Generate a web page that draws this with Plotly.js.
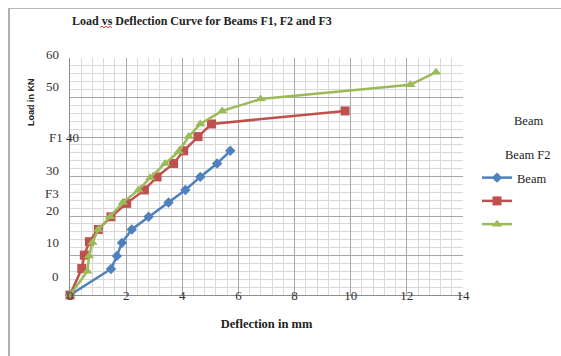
<!DOCTYPE html>
<html>
<head>
<meta charset="utf-8">
<script src="https://cdn.plot.ly/plotly-3.0.1.min.js"></script>
<style>
  html, body { margin: 0; padding: 0; background: #fff; }
  #wrap { position: relative; width: 561px; height: 356px; overflow: hidden; }
  #chart { position: absolute; left: 0; top: 0; width: 561px; height: 356px; }
  #frame { position: absolute; left: 8px; top: 8px; width: 600px; height: 400px;
           border-left: 2px solid #b0b0b0; border-top: 1px solid #b8b8b8; pointer-events: none; }
</style>
</head>
<body>
<div id="wrap">
  <div id="chart"></div>
  <div id="frame"></div>
</div>
<script>
// ---- data ----
const blueX = [0, 1.46, 1.67, 1.85, 2.2, 2.8, 3.51, 4.11, 4.64, 5.24, 5.71];
const blueY = [0, 6.6, 9.9, 13.2, 16.6, 19.8, 23.4, 26.6, 29.9, 33.3, 36.5];

const redX = [0, 0.42, 0.51, 0.69, 1.01, 1.46, 2.02, 2.65, 3.1, 3.69, 4.05, 4.56, 5.04, 9.8];
const redY = [0, 6.7, 10.1, 13.5, 16.6, 19.8, 23.2, 26.6, 29.9, 33.3, 36.5, 40.1, 43.3, 46.6];

const greenX = [0, 0.62, 0.68, 0.8, 1.01, 1.43, 1.88, 2.44, 2.86, 3.39, 3.87, 4.23, 4.64, 5.42, 6.79, 12.12, 13.04];
const greenY = [0, 6.0, 9.9, 13.3, 16.6, 19.8, 23.4, 26.6, 29.7, 33.3, 36.3, 40.1, 43.3, 46.6, 49.6, 53.2, 56.4];

const seriesNames = ['Beam', '', ''];

// garbled y-axis labels as they appear in the reference (text, and the load value they sit at)
const yLabelText = ['60', '50', 'F1 40', '30', 'F3', '20', '10', '0'];
const yLabelAt   = [60.8, 52.7, 40.0, 31.5, 25.6, 21.3, 13.2, 4.8];

// stray legend-like texts
const strayText = ['Beam', 'Beam F2'];

const titleText = 'Load vs Deflection Curve for Beams F1, F2 and F3';
const xTitle = 'Deflection in mm';
const yTitle = 'Load in KN';

// ---- styling ----
const serif = 'Liberation Serif, Times New Roman, serif';
const colors = ['#4F81BD', '#C0504D', '#9BBB59'];
const symbols = ['diamond', 'square', 'triangle-up'];
const msizes = [8, 9, 9];
const yMax = 60;

const xs = [blueX, redX, greenX];
const ys = [blueY, redY, greenY];

const traces = xs.map((x, i) => ({
  type: 'scatter',
  mode: 'lines+markers',
  x: x, y: ys[i],
  name: seriesNames[i],
  legendgroup: 'g' + i,
  cliponaxis: false,
  line: { color: colors[i], width: 2.5 },
  marker: { color: colors[i], symbol: symbols[i], size: msizes[i] }
}));

const annotations = [];
yLabelText.forEach((t, i) => {
  const rightPx = (t === 'F1 40') ? 81 : 61;
  annotations.push({
    text: t, xref: 'paper', yref: 'paper',
    x: (rightPx - 70) / 393, y: yLabelAt[i] / yMax,
    xanchor: 'right', yanchor: 'middle', showarrow: false,
    font: { family: serif, size: 13, color: '#333' }
  });
});
annotations.push({
  text: '<b>' + yTitle + '</b>', textangle: -90,
  xref: 'paper', yref: 'paper', x: (31 - 70) / 393, y: (295 - 102) / 237,
  xanchor: 'center', yanchor: 'middle', showarrow: false,
  font: { family: 'Liberation Sans, Arial, sans-serif', size: 9, color: '#222' }
});
const strayPos = [[528, 121], [527, 155]];
strayText.forEach((t, i) => {
  annotations.push({
    text: t, xref: 'paper', yref: 'paper',
    x: (strayPos[i][0] - 70) / 393, y: (295 - strayPos[i][1]) / 237,
    xanchor: 'center', yanchor: 'middle', showarrow: false,
    font: { family: serif, size: 12.5, color: '#222' }
  });
});

// spell-check style red wavy underline under "vs" in the title
const px = v => (v - 70) / 393;
const py = v => (295 - v) / 237;
let wave = 'M ' + px(100) + ' ' + py(27.5);
for (let k = 1; k <= 6; k++) {
  wave += ' L ' + px(100 + 2 * k) + ' ' + py(k % 2 ? 26.3 : 27.7);
}

const layout = {
  width: 561, height: 356,
  margin: { l: 70, r: 98, t: 58, b: 61 },
  paper_bgcolor: 'rgba(0,0,0,0)',
  plot_bgcolor: '#fff',
  title: {
    text: '<b>' + titleText + '</b>',
    xref: 'container', yref: 'container',
    x: 72 / 561, xanchor: 'left', y: 1 - 21 / 356, yanchor: 'middle',
    font: { family: serif, size: 12, color: '#222' }
  },
  xaxis: {
    range: [0, 14], dtick: 2, tick0: 0,
    showgrid: true, gridcolor: '#a6a6a6', gridwidth: 1,
    minor: { dtick: 0.4, showgrid: true, gridcolor: '#d9d9d9', gridwidth: 1 },
    showline: true, linecolor: '#8c8c8c', linewidth: 1,
    zeroline: false, ticks: '',
    ticklabelstandoff: -12,
    tickfont: { family: serif, size: 13, color: '#333' },
    title: { text: '<b>' + xTitle + '</b>', standoff: 17,
             font: { family: serif, size: 12.5, color: '#222' } }
  },
  yaxis: {
    range: [0, yMax], dtick: 10, tick0: 0,
    showgrid: true, gridcolor: '#a6a6a6', gridwidth: 1,
    minor: { dtick: 2, showgrid: true, gridcolor: '#d9d9d9', gridwidth: 1 },
    showline: true, linecolor: '#8c8c8c', linewidth: 1,
    zeroline: false, ticks: '', showticklabels: false
  },
  showlegend: true,
  legend: {
    xref: 'container', yref: 'container',
    x: 477 / 561, y: 1 - 163 / 356, xanchor: 'left', yanchor: 'top',
    bgcolor: 'rgba(0,0,0,0)', tracegroupgap: 4,
    font: { family: serif, size: 12.5, color: '#222' }
  },
  shapes: [{
    type: 'path', xref: 'paper', yref: 'paper', path: wave,
    line: { color: '#d04040', width: 1 }
  }],
  annotations: annotations
};

Plotly.newPlot('chart', traces, layout, { displayModeBar: false, staticPlot: true });
</script>
</body>
</html>
